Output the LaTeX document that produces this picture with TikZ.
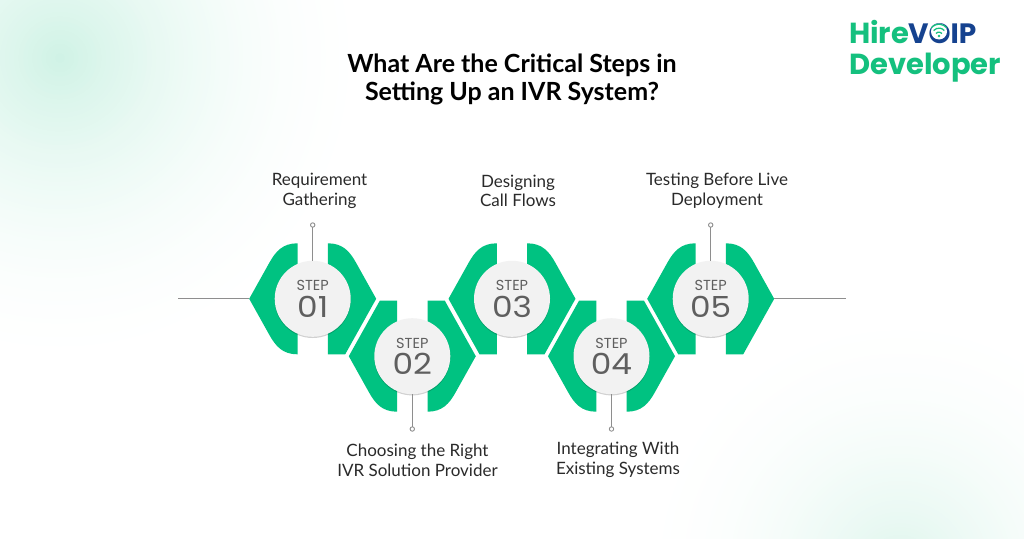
\documentclass[tikz,border=0pt]{standalone}
\usepackage{fontspec}
\usetikzlibrary{shadows}
\setmainfont{Lato}
\newfontfamily\popp{Poppins}
\definecolor{hexgreen}{HTML}{00C281}
\definecolor{discgrey}{HTML}{F2F2F2}
\definecolor{stepink}{HTML}{5F5F5F}
\definecolor{wireink}{HTML}{8E8E8E}
\definecolor{textink}{HTML}{2A2A2A}
\definecolor{logogreen}{HTML}{14C07E}
\definecolor{logoblue}{HTML}{15428F}
\definecolor{blobA}{HTML}{CFF2E5}
\definecolor{blobD}{HTML}{DDF5EC}
\tikzset{
  disc/.style={circle,fill=discgrey,minimum size=76pt,inner sep=0pt,outer sep=0pt,
    drop shadow={shadow xshift=0pt,shadow yshift=-1.2pt,opacity=.18,fill=black}},
  tipdot/.style={circle,draw=wireink,fill=white,line width=.9pt,minimum size=4.4pt,inner sep=0pt,outer sep=0pt},
  wire/.style={draw=wireink,line width=1.2pt},
  steptag/.style={text=stepink,inner sep=0pt,font=\popp\fontsize{14.5}{14.5}\selectfont},
  stepnum/.style={text=stepink,inner sep=0pt,font=\popp\fontsize{29}{29}\selectfont},
  caption/.style={text=textink,inner sep=0pt,align=center,font=\fontsize{17}{19.6}\selectfont},
  headline/.style={text=black,inner sep=0pt,align=center,font=\bfseries\fontsize{25}{28}\selectfont},
  logotext/.style={inner sep=0pt,anchor=base west,font=\popp\bfseries\fontsize{29}{29}\selectfont},
  hexside/.style={fill=hexgreen}
}
% #1 centre x, #2 centre y, #3 side (+1/-1), #4 1 when top is rounded, #5 1 when bottom is rounded
\newcommand{\halfhex}[5]{%
  \begin{scope}[shift={(#1,#2)},xscale=#3]
    \fill[hexside] (15.2,-55.5)
      \ifnum#4=1 .. controls (30,-55.5) and (37,-47.5) .. (43.4,-36) \else -- (32.5,-55.5) \fi
      -- (63.5,0)
      \ifnum#5=1 -- (43.4,36) .. controls (37,47.5) and (30,55.5) .. (15.2,55.5) \else -- (32.5,55.5) -- (15.2,55.5) \fi
      -- cycle;
  \end{scope}}
% #1 colour, #2 centre, #3 radius
\newcommand{\softblob}[3]{%
  \foreach \ringno in {1,...,70}{%
    \pgfmathsetmacro{\ringfrac}{1-(\ringno-1)/70}%
    \pgfmathsetmacro{\ringmix}{100*(1-\ringfrac)*(1-\ringfrac)}%
    \fill[#1!\ringmix!white] #2 circle ({#3*\ringfrac});
  }}
\begin{document}
\begin{tikzpicture}[x=1pt,y=-1pt]
\useasboundingbox (0,0) rectangle (1024,538);
\begin{scope}
\clip (0,0) rectangle (1024,538);
\fill[white] (0,0) rectangle (1024,538);
\softblob{blobA}{(60,58)}{320}
\softblob{blobD}{(900,570)}{270}
\end{scope}

\node[headline] (title) at (512,79.5) {What Are the Critical Steps in\\Setting Up an IVR System?};

% logo
\node[logotext,text=logogreen] (logoA) at (849,43.5) {Hire};
\node[logotext,text=logoblue] (logoB) at (908,43.5) {\fontsize{28}{28}\selectfont VOIP};
\node[logotext,text=logogreen] (logoC) at (849,74) {Developer};
\fill[white] (939,31.5) circle (8);
\begin{scope}[logogreen,line width=1.25pt]
  \fill (939,36) circle (1.3);
  \draw (936,33.5) arc[start angle=220,end angle=320,radius=3.9];
  \draw (933.6,30.6) arc[start angle=220,end angle=320,radius=7];
  \draw (931.4,27.8) arc[start angle=220,end angle=320,radius=9.9];
\end{scope}

% hexagons
\halfhex{312.7}{298.8}{-1}{1}{1}
\halfhex{312.7}{298.8}{1}{1}{0}
\halfhex{412.3}{356.2}{-1}{0}{1}
\halfhex{412.3}{356.2}{1}{0}{1}
\halfhex{512}{298.8}{-1}{1}{0}
\halfhex{512}{298.8}{1}{1}{0}
\halfhex{611.5}{356.2}{-1}{0}{1}
\halfhex{611.5}{356.2}{1}{0}{1}
\halfhex{710.7}{298.8}{-1}{1}{0}
\halfhex{710.7}{298.8}{1}{1}{0}

% discs
\node[disc] (s1) at (312.7,298.8) {};
\node[disc] (s2) at (412.3,356.2) {};
\node[disc] (s3) at (512,298.8) {};
\node[disc] (s4) at (611.5,356.2) {};
\node[disc] (s5) at (710.7,298.8) {};

\foreach \n/\x/\y/\num in {s1/312.7/298.8/01,s2/412.3/356.2/02,s3/512/298.8/03,s4/611.5/356.2/04,s5/710.7/298.8/05}{
  \node[steptag] (\n tag) at (\x,\y-13.2) {STEP};
  \node[stepnum] (\n num) at (\x,\y+7.6) {\scalebox{1.13}[1]{\num}};
}

% connectors
\node[tipdot] (d1) at (312.7,225) {};
\node[tipdot] (d2) at (412.3,429) {};
\node[tipdot] (d4) at (611.5,429) {};
\node[tipdot] (d5) at (710.7,225) {};
\draw[wire] (s1) -- (d1);
\draw[wire] (s2) -- (d2);
\draw[wire] (s4) -- (d4);
\draw[wire] (s5) -- (d5);
\coordinate (leftend) at (178.3,298.8);
\coordinate (lefttip) at (249.2,298.8);
\coordinate (rightend) at (845.7,298.8);
\coordinate (righttip) at (774.2,298.8);
\draw[wire] (leftend) -- (lefttip);
\draw[wire] (righttip) -- (rightend);

% captions
\node[caption] (c1) at (319.5,190.8) {Requirement\\Gathering};
\node[caption] (c2) at (417.5,460) {Choosing the Right\\IVR Solution Provider};
\node[caption] (c3) at (518,190.8) {Designing\\Call Flows};
\node[caption] (c4) at (618,460) {Integrating With\\Existing Systems};
\node[caption] (c5) at (717,190.8) {Testing Before Live\\Deployment};
\end{tikzpicture}
\end{document}
